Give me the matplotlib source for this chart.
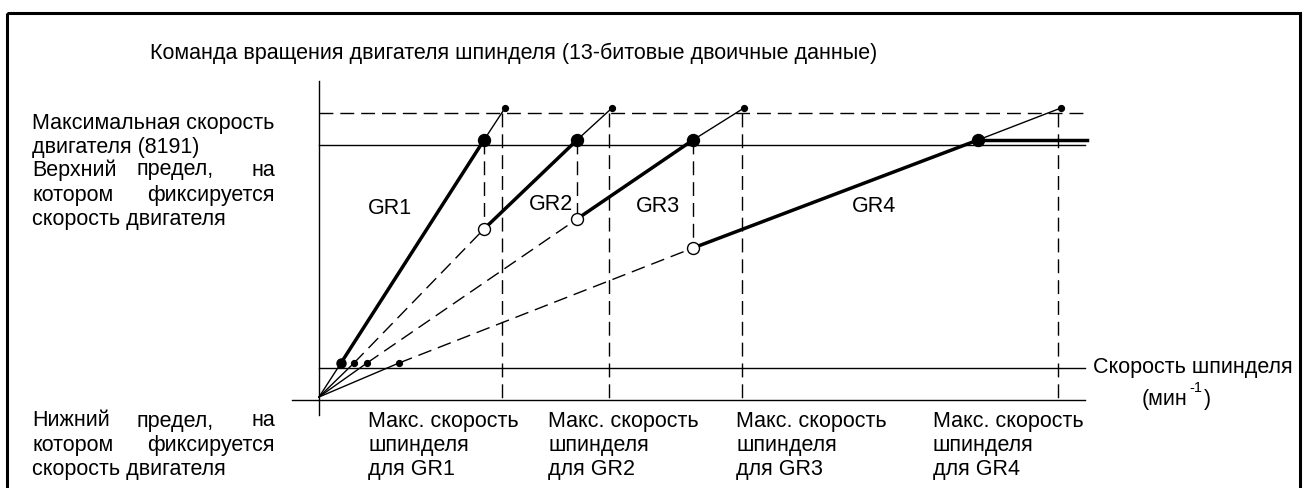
import numpy as np
import matplotlib.pyplot as plt
from matplotlib.patches import Rectangle

plt.rcParams['font.family'] = ['Liberation Sans', 'DejaVu Sans']
plt.rcParams['lines.scale_dashes'] = False

# диаграмма в единицах чертежа: x - скорость шпинделя, y - команда двигателя
gears = ['GR1', 'GR2', 'GR3', 'GR4']
low_x = [22, 35, 48, 80]          # пересечение с нижним пределом
low_y = 34
switch_x = [165, 258, 374]        # точки переключения для GR2..GR4
switch_y = [168, 178, 149]
clamp_x = [165, 258, 374, 659]    # пересечение с верхним пределом
clamp_y = 257
top_x = [186, 293, 425, 742]      # максимальная скорость двигателя
top_y = 289
max_x = [183, 290, 423, 739]      # макс. скорость шпинделя для каждой передачи
cmd_max = 284                     # 8191
upper_lim = 252
lower_lim = 29
x_end = 766

X0, Y0 = 319, 397
FS = 15.5
DASH = (0, (10, 5))
thin = 1.0
thick = 2.5


def P(x, y):
    return X0 + np.asarray(x, dtype=float), Y0 - np.asarray(y, dtype=float)


fig = plt.figure(figsize=(13.04, 4.88), dpi=100)
ax = fig.add_axes([0, 0, 1, 1])
ax.set_xlim(0, 1304)
ax.set_ylim(488, 0)
ax.axis('off')

# рамка
ax.add_patch(Rectangle((7, 13), 1293, 490, fill=False, lw=2.2, ec='black'))

# оси
ax.plot(*P([0, 0], [316, -18]), color='black', lw=thin)
ax.plot(*P([-27, x_end], [-3, -3]), color='black', lw=thin)

# пределы
ax.plot(*P([0, x_end], [cmd_max, cmd_max]), color='black', lw=thin, linestyle=DASH)
ax.plot(*P([0, x_end], [upper_lim, upper_lim]), color='black', lw=thin)
ax.plot(*P([0, x_end], [lower_lim, lower_lim]), color='black', lw=thin)

# вертикали макс. скорости шпинделя
for mx in max_x:
    ax.plot(*P([mx, mx], [cmd_max, -3]), color='black', lw=thin, linestyle=DASH)

# вертикали в точках переключения
for i in range(3):
    ax.plot(*P([clamp_x[i], clamp_x[i]], [clamp_y, switch_y[i]]),
            color='black', lw=thin, linestyle=DASH)

# характеристики передач
for i in range(4):
    ax.plot(*P([0, low_x[i]], [0, low_y]), color='black', lw=thin)
    if i == 0:
        ax.plot(*P([low_x[i], clamp_x[i]], [low_y, clamp_y]), color='black', lw=thick)
    else:
        ax.plot(*P([low_x[i], switch_x[i - 1]], [low_y, switch_y[i - 1]]),
                color='black', lw=thin, linestyle=DASH)
        ax.plot(*P([switch_x[i - 1], clamp_x[i]], [switch_y[i - 1], clamp_y]),
                color='black', lw=thick)
    ax.plot(*P([clamp_x[i], top_x[i]], [clamp_y, top_y]), color='black', lw=thin)

ax.plot(*P([clamp_x[3], x_end + 2], [clamp_y, clamp_y]), color='black', lw=thick)

# точки
ax.plot(*P(low_x[:1], [low_y]), 'o', color='black', ms=6.5, zorder=5)
ax.plot(*P(low_x[1:], [low_y] * 3), 'o', color='black', ms=4.2, zorder=5)
ax.plot(*P(top_x, [top_y] * 4), 'o', color='black', ms=4.2, zorder=5)
ax.plot(*P(clamp_x, [clamp_y] * 4), 'o', color='black', ms=8.6, zorder=5)
ax.plot(*P(switch_x, switch_y), 'o', mfc='white', mec='black', mew=1.0, ms=8.6, zorder=5)

# подписи передач
for g, (lx, ly) in zip(gears, [(390, 208), (551, 205), (658, 207), (874, 207)]):
    ax.text(lx, ly, g, fontsize=FS, ha='center', va='center')

ax.text(150, 53, 'Команда вращения двигателя шпинделя (13-битовые двоичные данные)',
        fontsize=FS, va='center')

# левые подписи
left, right = 32, 275
ax.text(left, 123, 'Максимальная скорость', fontsize=FS, va='center')
ax.text(left, 147, 'двигателя (8191)', fontsize=FS, va='center')


def justified(y, words):
    ax.text(left, y, words[0], fontsize=FS, va='center', ha='left')
    if len(words) == 3:
        ax.text((left + right) / 2 + 22, y, words[1], fontsize=FS, va='center', ha='center')
    ax.text(right, y, words[-1], fontsize=FS, va='center', ha='right')


justified(170, ['Верхний', 'предел,', 'на'])
justified(195, ['котором', 'фиксируется'])
ax.text(left, 220, 'скорость двигателя', fontsize=FS, va='center')

justified(421, ['Нижний', 'предел,', 'на'])
justified(445, ['котором', 'фиксируется'])
ax.text(left, 469, 'скорость двигателя', fontsize=FS, va='center')

# подписи оси скорости шпинделя
ax.text(1093, 368, 'Скорость шпинделя', fontsize=FS, va='center')
t1 = ax.text(1142, 400, '(мин', fontsize=FS, va='center')
t2 = ax.annotate('-1', xy=(1, 0.72), xycoords=t1, xytext=(1, 0),
                 textcoords='offset points', fontsize=FS * 0.68,
                 ha='left', va='bottom')
ax.annotate(')', xy=(1, 0), xycoords=(t2, t1), xytext=(1, 0),
            textcoords='offset points', fontsize=FS, ha='left', va='bottom')

for g, lx in zip(gears, [368, 548, 736, 933]):
    ax.text(lx, 421, 'Макс. скорость', fontsize=FS, va='center')
    ax.text(lx, 445, 'шпинделя', fontsize=FS, va='center')
    ax.text(lx, 469, 'для ' + g, fontsize=FS, va='center')

fig.savefig('out.png', dpi=100)
